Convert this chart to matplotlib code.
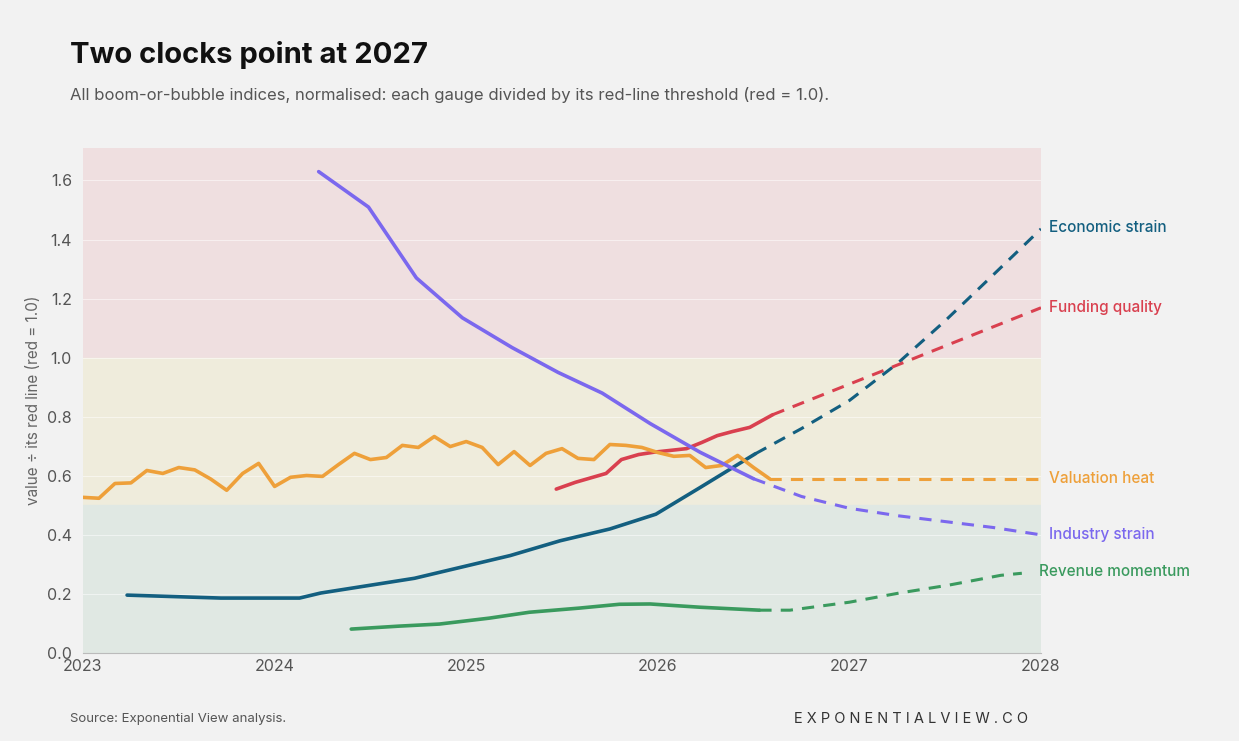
import matplotlib.pyplot as plt
import numpy as np

plt.rcParams['font.family'] = ['Inter', 'DejaVu Sans']

# Valuation heat: monthly from Jan 2023
val_x = 2023 + np.arange(44) / 12
val_y = [0.527, 0.524, 0.574, 0.576, 0.618, 0.608, 0.628, 0.620, 0.589, 0.551,
         0.608, 0.642, 0.564, 0.595, 0.601, 0.598, 0.638, 0.676, 0.655, 0.662,
         0.703, 0.696, 0.733, 0.699, 0.716, 0.696, 0.638, 0.682, 0.635, 0.676,
         0.692, 0.659, 0.655, 0.706, 0.703, 0.696, 0.679, 0.666, 0.669, 0.628,
         0.635, 0.669, 0.628, 0.590]
val_fx = [2026.58, 2028.0]
val_fy = [0.590, 0.590]

fund_x = [2025.47, 2025.57, 2025.73, 2025.81, 2025.9, 2025.98, 2026.15, 2026.23,
          2026.31, 2026.39, 2026.48, 2026.6]
fund_y = [0.555, 0.578, 0.608, 0.655, 0.672, 0.680, 0.692, 0.713, 0.736, 0.750, 0.764, 0.807]
fund_fx = [2026.6, 2028.0]
fund_fy = [0.807, 1.169]

ind_x = [2024.23, 2024.49, 2024.74, 2024.98, 2025.24, 2025.48, 2025.71, 2025.96, 2026.22, 2026.5]
ind_y = [1.63, 1.51, 1.27, 1.135, 1.034, 0.95, 0.88, 0.777, 0.68, 0.59]
ind_fx = [2026.5, 2026.75, 2027.0, 2027.25, 2027.5, 2027.75, 2028.0]
ind_fy = [0.59, 0.53, 0.49, 0.465, 0.445, 0.425, 0.40]

econ_x = [2023.23, 2023.72, 2024.13, 2024.24, 2024.73, 2024.97, 2025.23, 2025.49,
          2025.75, 2025.99, 2026.22, 2026.51]
econ_y = [0.196, 0.186, 0.186, 0.203, 0.253, 0.29, 0.33, 0.38, 0.42, 0.47, 0.56, 0.675]
econ_fx = [2026.51, 2026.75, 2027.0, 2027.25, 2027.5, 2027.75, 2028.0]
econ_fy = [0.675, 0.76, 0.855, 0.98, 1.125, 1.28, 1.436]

rev_x = [2024.4, 2024.65, 2024.86, 2025.12, 2025.33, 2025.59, 2025.8, 2025.96, 2026.22, 2026.53]
rev_y = [0.081, 0.091, 0.098, 0.118, 0.138, 0.152, 0.165, 0.166, 0.155, 0.145]
rev_fx = [2026.53, 2026.69, 2027.0, 2027.26, 2027.52, 2027.79, 2027.9]
rev_fy = [0.145, 0.145, 0.172, 0.203, 0.23, 0.263, 0.27]

series = [
    ('Economic strain', econ_x, econ_y, econ_fx, econ_fy, '#135f80'),
    ('Funding quality', fund_x, fund_y, fund_fx, fund_fy, '#d9404f'),
    ('Valuation heat', list(val_x), val_y, val_fx, val_fy, '#eea03a'),
    ('Industry strain', ind_x, ind_y, ind_fx, ind_fy, '#7b68ee'),
    ('Revenue momentum', rev_x, rev_y, rev_fx, rev_fy, '#3a9a5e'),
]
label_y = {'Economic strain': 1.44, 'Funding quality': 1.17, 'Valuation heat': 0.59,
           'Industry strain': 0.40, 'Revenue momentum': 0.275}
label_x = {'Revenue momentum': 2027.95}

fig = plt.figure(figsize=(12.39, 7.41), dpi=100, facecolor='#f2f2f2')
ax = fig.add_axes([83 / 1239, 1 - 653 / 741, 958 / 1239, 505 / 741])
ax.set_facecolor('#f2f2f2')
ax.axhspan(1.0, 1.71, color='#efdfe0', zorder=0)
ax.axhspan(0.5, 1.0, color='#efecdc', zorder=0)
ax.axhspan(0.0, 0.5, color='#e0e8e3', zorder=0)
for yv in [0.2, 0.4, 0.6, 0.8, 1.0, 1.2, 1.4, 1.6]:
    ax.axhline(yv, color='white', lw=0.8, alpha=0.5, zorder=1)

for name, x, y, fx, fy, c in series:
    ax.plot(x, y, color=c, lw=2.6, solid_capstyle='round', zorder=3)
    ax.plot(fx, fy, color=c, lw=2.2, ls=(0, (4, 3)), zorder=3)
    ax.text(label_x.get(name, 2028.0) + 0.04, label_y[name], name, color=c, fontsize=11,
            va='center', ha='left', fontweight='medium', clip_on=False)

ax.set_xlim(2023, 2028)
ax.set_ylim(0, 1.71)
ax.set_xticks([2023, 2024, 2025, 2026, 2027, 2028])
ax.set_yticks([0.0, 0.2, 0.4, 0.6, 0.8, 1.0, 1.2, 1.4, 1.6])
ax.set_yticklabels(['0.0', '0.2', '0.4', '0.6', '0.8', '1.0', '1.2', '1.4', '1.6'])
ax.tick_params(colors='#555555', labelsize=11.5, length=0, pad=8)
ax.tick_params(axis='x', pad=4)
for s in ax.spines.values():
    s.set_visible(False)
ax.spines['bottom'].set_visible(True)
ax.spines['bottom'].set_color('#bbbbbb')
ax.set_ylabel('value ÷ its red line (red = 1.0)', color='#666666', fontsize=11)

fig.text(70 / 1239, 1 - 55 / 741, 'Two clocks point at 2027', fontsize=21,
         fontweight='bold', color='#111111', va='center')
fig.text(70 / 1239, 1 - 95 / 741,
         'All boom-or-bubble indices, normalised: each gauge divided by its red-line threshold (red = 1.0).',
         fontsize=12, color='#555555', va='center')
fig.text(70 / 1239, 1 - 719 / 741, 'Source: Exponential View analysis.', fontsize=9.5,
         color='#555555', va='center')
fig.text(1028 / 1239, 1 - 719 / 741, ' '.join('EXPONENTIALVIEW.CO'), fontsize=10.5,
         color='#333333', va='center', ha='right')

plt.savefig('out.png', dpi=100, facecolor=fig.get_facecolor())
